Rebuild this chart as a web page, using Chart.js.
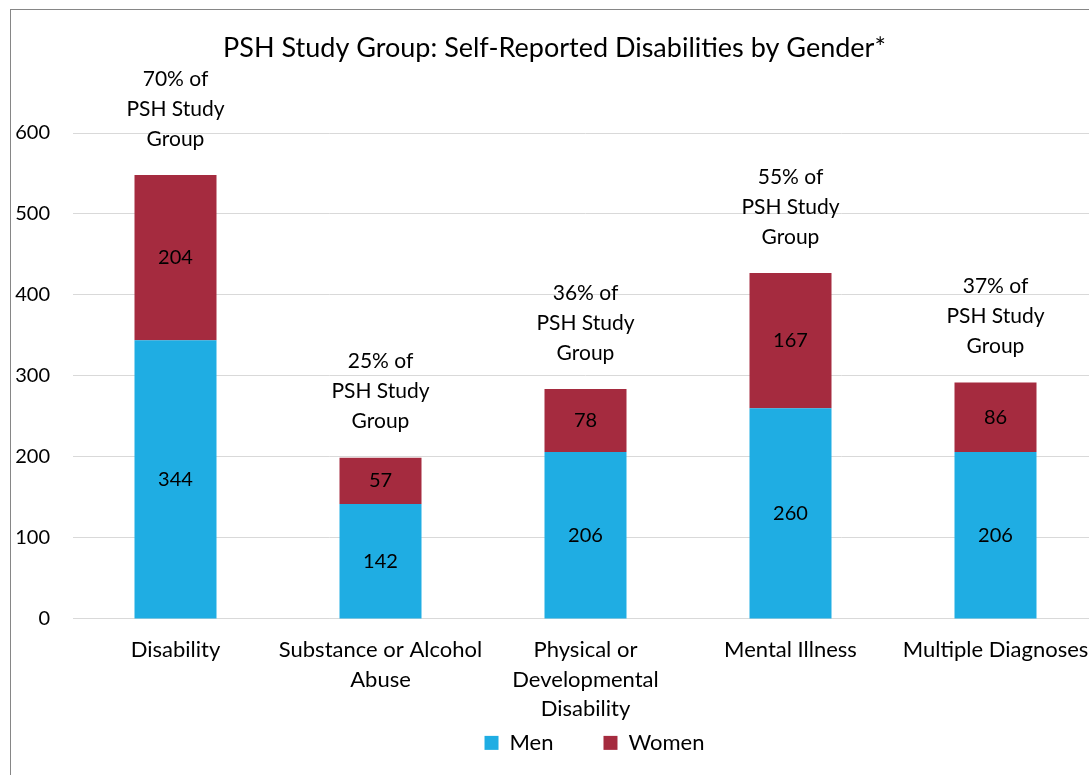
<!DOCTYPE html>
<html>
<head>
<meta charset="utf-8">
<script src="https://cdn.jsdelivr.net/npm/chart.js@4"></script>
<style>
  html, body { margin: 0; padding: 0; overflow: hidden; background: #fff; }
  #box { position: absolute; left: 10px; top: 9px; width: 1100px; height: 824px; border: 1px solid #868686; }
  canvas { display: block; }
</style>
</head>
<body>
<div id="box"><canvas id="chart" width="1100" height="824"></canvas></div>
<script>
const categories = [
    ['Disability'],
    ['Substance or Alcohol', 'Abuse'],
    ['Physical or', 'Developmental', 'Disability'],
    ['Mental Illness'],
    ['Multiple Diagnoses']
]
const men = [344, 142, 206, 260, 206]
const women = [204, 57, 78, 167, 86]
const shareOfGroup = ['70%', '25%', '36%', '55%', '37%']
const yTicks = [0, 100, 200, 300, 400, 500, 600]

const FONT = 'Lato, "Open Sans", sans-serif'
const BLUE = '#1fade3'
const RED = '#a52b3f'

// numbers centred inside each segment
const insideLabels = {
    id: 'insideLabels',
    afterDatasetsDraw(chart) {
        const ctx = chart.ctx
        ctx.save()
        ctx.font = '20px ' + FONT
        ctx.fillStyle = '#000'
        ctx.textAlign = 'center'
        ctx.textBaseline = 'middle'
        chart.data.datasets.forEach((ds, di) => {
            chart.getDatasetMeta(di).data.forEach((bar, i) => {
                ctx.fillText(ds.data[i], bar.x, (bar.y + bar.base) / 2)
            })
        })
        ctx.restore()
    }
}

// "xx% of PSH Study Group" above each stack
const shareLabels = {
    id: 'shareLabels',
    afterDatasetsDraw(chart) {
        const ctx = chart.ctx
        const yScale = chart.scales.y
        const topMeta = chart.getDatasetMeta(1)
        ctx.save()
        ctx.font = '21px ' + FONT
        ctx.fillStyle = '#000'
        ctx.textAlign = 'center'
        ctx.textBaseline = 'middle'
        topMeta.data.forEach((bar, i) => {
            const yTop = yScale.getPixelForValue(men[i] + women[i])
            const lines = [shareOfGroup[i] + ' of', 'PSH Study', 'Group']
            lines.forEach((t, k) => {
                ctx.fillText(t, bar.x, yTop - 36 - (2 - k) * 30)
            })
        })
        ctx.restore()
    }
}

// legend sits a bit right of centre and closer to the axis labels
const nudgeLegend = {
    id: 'nudgeLegend',
    afterLayout(chart) {
        const lg = chart.legend
        const dy = (chart.chartArea.bottom + 124) - (lg.top + 50 + 11)
        lg.top += dy
        lg.bottom += dy
        lg.left += 40
        lg.right += 40
    }
}

new Chart(document.getElementById('chart'), {
    type: 'bar',
    data: {
        labels: categories,
        datasets: [
            { label: 'Men', data: men, backgroundColor: BLUE },
            { label: 'Women', data: women, backgroundColor: RED }
        ]
    },
    options: {
        responsive: false,
        animation: false,
        layout: { padding: { left: 0, right: 13, top: 0, bottom: 20 } },
        datasets: { bar: { categoryPercentage: 1, barPercentage: 0.4 } },
        plugins: {
            title: {
                display: true,
                text: 'PSH Study Group: Self-Reported Disabilities by Gender*',
                color: '#000',
                font: { family: FONT, size: 27, weight: 'normal', lineHeight: 1.2 },
                padding: { top: 22, bottom: 68.6 }
            },
            legend: {
                position: 'bottom',
                labels: {
                    color: '#000',
                    font: { family: FONT, size: 22 },
                    boxWidth: 14, boxHeight: 14,
                    padding: 50
                }
            },
            tooltip: { enabled: false }
        },
        scales: {
            x: {
                stacked: true,
                grid: { display: false },
                border: { color: '#d9d9d9' },
                ticks: { color: '#000', font: { family: FONT, size: 22, lineHeight: 1.32 }, maxRotation: 0, autoSkip: false, padding: 9 }
            },
            y: {
                stacked: true,
                min: 0,
                max: 600,
                afterBuildTicks: axis => { axis.ticks = yTicks.map(v => ({ value: v })) },
                afterFit: axis => { axis.width = 62 },
                grid: { color: '#d9d9d9', drawTicks: false },
                border: { display: false },
                ticks: { color: '#000', font: { family: FONT, size: 20 }, padding: 23 }
            }
        }
    },
    plugins: [insideLabels, shareLabels, nudgeLegend]
})
</script>
</body>
</html>
